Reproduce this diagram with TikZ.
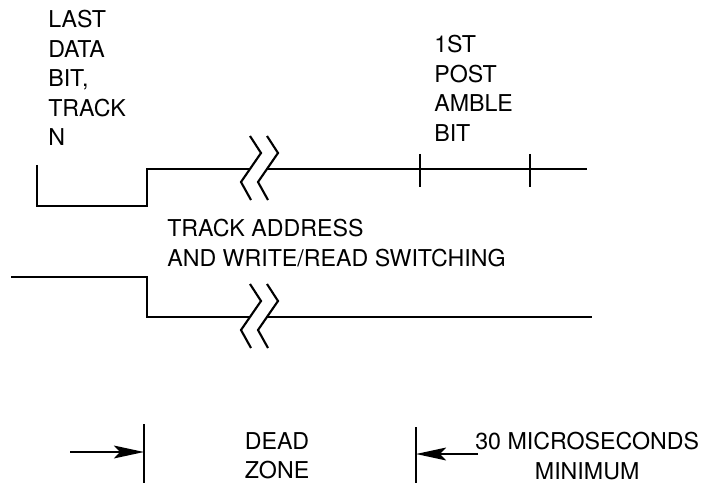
\documentclass[tikz,border=0pt]{standalone}
\usepackage{fontspec}
\setmainfont{TeX Gyre Heros}
\usetikzlibrary{arrows.meta, calc}
\tikzset{
  sig/.style={line width=1.7pt, line join=miter},
  brk/.style={line width=1.5pt},
  tk/.style={line width=1.7pt},
  lab/.style={inner sep=0pt, align=left, font=\fontsize{16.5pt}{21pt}\selectfont},
  dimarr/.style={-{Stealth[length=7.5mm, width=3.2mm, inset=1.5mm]}, line width=1.7pt}
}
\newcommand{\brkmark}[1]{%
  \draw[brk] (#1) ++(0,-33) -- ++(11,17) -- ++(-20,29) -- ++(10,18);
  \draw[brk] (#1) ++(17,-33) -- ++(11,17) -- ++(-20,29) -- ++(10,18);}

\begin{document}
\begin{tikzpicture}[x=0.025cm, y=-0.025cm]
	\useasboundingbox (0,0) rectangle (707,484);
	% labels
	\node[lab, anchor=north west] (lastbit) at (48,10) {LAST\\DATA\\BIT,\\TRACK\\N};
	\node[lab, anchor=north west] (postbit) at (434,35) {1ST\\POST\\AMBLE\\BIT};
	\node[lab, anchor=north west] (switch) at (167,219) {TRACK ADDRESS\\AND WRITE/READ SWITCHING};
	\node[lab, anchor=north, align=center] (dead) at (277,432) {DEAD\\ZONE};
	\node[lab, anchor=north west, align=center] (micro) at (475,432) {30 MICROSECONDS\\MINIMUM};
	% upper trace
	\coordinate (brkA) at (250,169);
	\draw[sig] (37,165) |- (147,206) -- (147,169) -- (brkA);
	\draw[sig] ($(brkA)+(17,0)$) -- (587,169);
	\brkmark{brkA}
	\foreach \x in {420,530} \draw[tk] (\x,154) -- (\x,187);
	% lower trace
	\coordinate (brkB) at (250,317);
	\draw[sig] (11,277) -- (147,277) -- (147,317) -- (brkB);
	\draw[sig] ($(brkB)+(17,0)$) -- (592,317);
	\brkmark{brkB}
	% dead zone
	\coordinate (lbarT) at (144,424); \coordinate (lbarB) at (144,483);
	\coordinate (rbarT) at (416,427); \coordinate (rbarB) at (416,483);
	\draw[tk] (lbarT) -- (lbarB);
	\draw[tk] (rbarT) -- (rbarB);
	\coordinate (lstart) at (70,452);
	\coordinate (rstart) at (478,454);
	\draw[dimarr] (lstart) -- (lstart -| lbarT);
	\draw[dimarr] (rstart) -- (rstart -| rbarT);
\end{tikzpicture}
\end{document}
